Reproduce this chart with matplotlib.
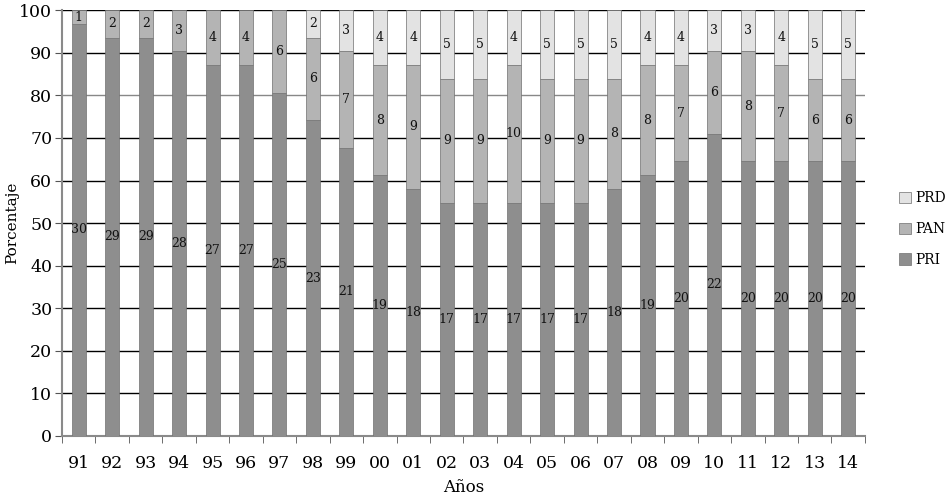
import numpy as np
import matplotlib.pyplot as plt

years = ['91', '92', '93', '94', '95', '96', '97', '98', '99', '00', '01', '02',
         '03', '04', '05', '06', '07', '08', '09', '10', '11', '12', '13', '14']
pri = [30, 29, 29, 28, 27, 27, 25, 23, 21, 19, 18, 17, 17, 17, 17, 17, 18, 19, 20, 22, 20, 20, 20, 20]
pan = [1, 2, 2, 3, 4, 4, 6, 6, 7, 8, 9, 9, 9, 10, 9, 9, 8, 8, 7, 6, 8, 7, 6, 6]
prd = [0, 0, 0, 0, 0, 0, 0, 2, 3, 4, 4, 5, 5, 4, 5, 5, 5, 4, 4, 3, 3, 4, 5, 5]

plt.rcParams['font.family'] = ['DejaVu Serif']

counts = np.array([pri, pan, prd], dtype=float)
total = counts.sum(axis=0)
pct = counts / total * 100
names = ['PRI', 'PAN', 'PRD']
colors = ['#8e8e8e', '#b4b4b4', '#e3e3e3']

fig = plt.figure(figsize=(9.48, 4.98), dpi=100)
ax = fig.add_axes([0.0654, 0.1245, 0.847, 0.855])

x = np.arange(len(years))
bottom = np.zeros(len(years))
handles = []
for i in range(3):
    b = ax.bar(x, pct[i], 0.42, bottom=bottom, color=colors[i], edgecolor='#707070',
               linewidth=0.5, label=names[i], zorder=3)
    handles.append(b)
    for j in range(len(years)):
        if counts[i, j] > 0:
            ax.text(x[j], bottom[j] + pct[i, j] / 2, str(int(counts[i, j])),
                    ha='center', va='center', fontsize=9, color='#111111', zorder=4)
    bottom += pct[i]

ax.set_xlim(-0.5, len(years) - 0.5)
ax.set_ylim(0, 100)
ax.set_yticks(np.arange(0, 101, 10))
ax.tick_params(axis='y', labelsize=12.5, length=5, color='#555555', pad=2)
ax.set_xticks(x)
ax.set_xticklabels(years)
ax.set_xticks(np.arange(-0.5, len(years), 1), minor=True)
ax.tick_params(axis='x', which='major', length=0, labelsize=12.5, pad=14)
ax.tick_params(axis='x', which='minor', length=5, color='#555555')

ax.yaxis.grid(True, color='black', linewidth=1.0, zorder=1)
ax.get_ygridlines()[8].set_color('#888888')
ax.set_axisbelow(True)
for s in ['top', 'right']:
    ax.spines[s].set_visible(False)
for s in ['left', 'bottom']:
    ax.spines[s].set_color('#8a8a8a')
    ax.spines[s].set_linewidth(1.5)

ax.set_ylabel('Porcentaje', fontsize=11, labelpad=0)
ax.set_xlabel('Años', fontsize=12, labelpad=5)

fig.legend(handles[::-1], names[::-1], loc='center left', bbox_to_anchor=(0.935, 0.54),
           frameon=False, fontsize=10, handlelength=0.9, handleheight=0.9,
           handletextpad=0.3, labelspacing=1.2)

fig.savefig('out.png', dpi=100)
